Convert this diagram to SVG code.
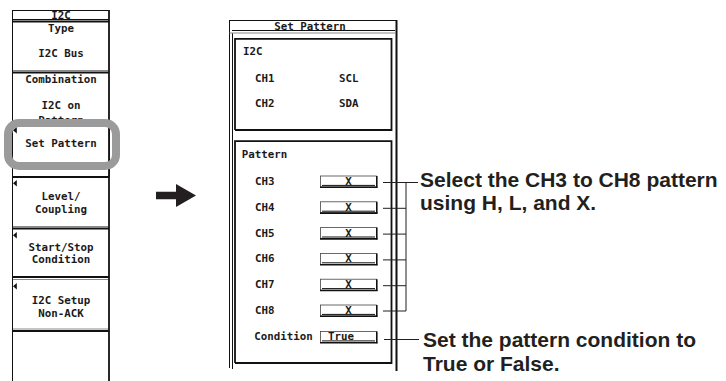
<svg xmlns="http://www.w3.org/2000/svg" width="726" height="381" viewBox="0 0 726 381">
  <style>
    .mono { font-family: "DejaVu Sans Mono", "Liberation Mono", monospace; font-size: 10.8px; font-weight: bold; fill: #1a1a1a; }
    .mid { text-anchor: middle; }
    .lbl { font-family: "Liberation Sans", Arial, sans-serif; font-weight: bold; font-size: 21px; fill: #231f20; }
    .edge { stroke: #111; fill: none; }
    .thin { stroke-width: 1; }
    .thick { stroke-width: 1.8; }
    .grey { stroke: #8a8a8a; stroke-width: 1; fill: none; }
    .conn { stroke: #231f20; stroke-width: 1; fill: none; }
    .tri { fill: #111; }
    .field { fill: #fff; stroke: #444; stroke-width: 0.8; }
  </style>
  <defs>
    <!-- small left-pointing marker shown at the top-left of a soft key -->
    <polygon id="keyMark" class="tri" points="16.8,0 13,3.2 16.8,6.4"/>
    <!-- one value field of the pattern dialog -->
    <g id="fieldBox">
      <rect class="field" x="320.5" y="0" width="56" height="11"/>
      <line class="edge" x1="376.8" y1="0" x2="376.8" y2="11.8" stroke-width="1.6"/>
      <line class="edge" x1="320" y1="11.3" x2="377.5" y2="11.3" stroke-width="1.6"/>
      <line class="edge thin" x1="322" y1="9.4" x2="375" y2="9.4"/>
    </g>
  </defs>

  <rect width="726" height="381" fill="#fff"/>

  <!-- soft-key menu -->
  <g id="menu">
    <rect x="12.5" y="10.5" width="96.5" height="372" fill="#fff" stroke="none"/>
    <line class="edge thin" x1="12.5" y1="10" x2="12.5" y2="381"/>
    <line class="edge thick" x1="109" y1="10" x2="109" y2="381"/>
    <line class="edge thin" x1="12.5" y1="10.5" x2="109" y2="10.5"/>
  </g>
  <g id="menu-title">
    <line class="edge thin" x1="13" y1="19.5" x2="109" y2="19.5"/>
    <line class="edge thick" x1="12.5" y1="21.5" x2="109" y2="21.5"/>
    <text class="mono mid" x="61" y="19">I2C</text>
  </g>
  <g id="key-type">
    <text class="mono mid" x="61" y="32">Type</text>
    <text class="mono mid" x="61" y="57">I2C Bus</text>
    <line class="grey" x1="13" y1="70.5" x2="108" y2="70.5"/>
    <line class="edge thick" x1="12.5" y1="72.5" x2="109" y2="72.5"/>
  </g>
  <g id="key-combination">
    <text class="mono mid" x="61" y="83">Combination</text>
    <text class="mono mid" x="61" y="109">I2C on</text>
    <text class="mono mid" x="61" y="123.5">Pattern</text>
  </g>
  <g id="key-set-pattern">
    <rect x="12.5" y="119.5" width="96.5" height="56" fill="#fff"/>
    <line class="edge thin" x1="12.5" y1="119" x2="12.5" y2="177"/>
    <line class="edge thick" x1="109" y1="119" x2="109" y2="177"/>
    <use href="#keyMark" y="127"/>
    <text class="mono mid" x="61" y="147">Set Pattern</text>
    <!-- selection highlight -->
    <rect x="8" y="123" width="108" height="43" rx="11" fill="none" stroke="#9b9b9b" stroke-width="8"/>
  </g>
  <g id="key-level">
    <line class="edge thick" x1="12.5" y1="177" x2="109" y2="177"/>
    <use href="#keyMark" y="180"/>
    <text class="mono mid" x="61" y="200">Level/</text>
    <text class="mono mid" x="61" y="212.5">Coupling</text>
    <line class="grey" x1="13" y1="226.5" x2="108" y2="226.5"/>
    <line class="edge thick" x1="12.5" y1="228.5" x2="109" y2="228.5"/>
  </g>
  <g id="key-start-stop">
    <use href="#keyMark" y="232"/>
    <text class="mono mid" x="61" y="250.5">Start/Stop</text>
    <text class="mono mid" x="61" y="263">Condition</text>
    <line class="edge thick" x1="12.5" y1="277" x2="109" y2="277"/>
    <line class="grey" x1="13" y1="279.5" x2="108" y2="279.5"/>
  </g>
  <g id="key-setup">
    <use href="#keyMark" y="283"/>
    <text class="mono mid" x="61" y="304">I2C Setup</text>
    <text class="mono mid" x="61" y="316.5">Non-ACK</text>
    <line class="grey" x1="13" y1="329" x2="108" y2="329"/>
    <line class="edge thick" x1="12.5" y1="331" x2="109" y2="331"/>
  </g>
  <g id="key-blank"/>

  <!-- arrow between the menu and the dialog -->
  <g id="arrow">
    <polygon fill="#231f20" points="156,191.7 176,191.7 176,184 196,195.5 176,207 176,199.3 156,199.3"/>
  </g>

  <!-- Set Pattern dialog -->
  <g id="dialog">
    <rect x="229.5" y="20.5" width="167" height="350" fill="#fff" stroke="none"/>
    <line class="edge thin" x1="229.5" y1="20.5" x2="396.5" y2="20.5"/>
    <line class="edge thin" x1="229.5" y1="20" x2="229.5" y2="368"/>
    <line class="edge thin" x1="232.5" y1="33" x2="232.5" y2="369"/>
    <line class="edge" stroke-width="2" x1="396.5" y1="20" x2="396.5" y2="371"/>
    <line class="edge thin" x1="232" y1="30.5" x2="395" y2="30.5"/>
    <line class="grey" x1="229.5" y1="33" x2="396" y2="33"/>
    <text class="mono mid" x="310" y="30">Set Pattern</text>
  </g>
  <g id="box-i2c">
    <path class="edge" stroke-width="1.8" d="M235,130 V38.8 H391.5 V130 H235"/>
    <text class="mono" x="243" y="55">I2C</text>
    <text class="mono" x="255" y="81.5">CH1</text>
    <text class="mono" x="339" y="81.5">SCL</text>
    <text class="mono" x="255" y="106.5">CH2</text>
    <text class="mono" x="339" y="106.5">SDA</text>
  </g>
  <g id="box-pattern">
    <path class="edge" stroke-width="1.8" d="M235,363 V141.2 H391.5 V363 H235"/>
    <text class="mono" x="241.7" y="157.7">Pattern</text>
  </g>
  <g id="row-ch3">
    <text class="mono" x="255" y="185">CH3</text>
    <use href="#fieldBox" y="176"/>
    <text class="mono mid" x="348.5" y="185">X</text>
  </g>
  <g id="row-ch4">
    <text class="mono" x="255" y="210.8">CH4</text>
    <use href="#fieldBox" y="201.8"/>
    <text class="mono mid" x="348.5" y="210.8">X</text>
  </g>
  <g id="row-ch5">
    <text class="mono" x="255" y="236.6">CH5</text>
    <use href="#fieldBox" y="227.6"/>
    <text class="mono mid" x="348.5" y="236.6">X</text>
  </g>
  <g id="row-ch6">
    <text class="mono" x="255" y="262.4">CH6</text>
    <use href="#fieldBox" y="253.4"/>
    <text class="mono mid" x="348.5" y="262.4">X</text>
  </g>
  <g id="row-ch7">
    <text class="mono" x="255" y="288.2">CH7</text>
    <use href="#fieldBox" y="279.2"/>
    <text class="mono mid" x="348.5" y="288.2">X</text>
  </g>
  <g id="row-ch8">
    <text class="mono" x="255" y="314">CH8</text>
    <use href="#fieldBox" y="305"/>
    <text class="mono mid" x="348.5" y="314">X</text>
  </g>
  <g id="row-condition">
    <text class="mono" x="254.3" y="340">Condition</text>
    <use href="#fieldBox" y="331.5"/>
    <text class="mono mid" x="341" y="340" font-family="Liberation Serif, serif" font-size="12">True</text>
  </g>

  <!-- callout leaders -->
  <g id="connectors">
    <line class="conn" x1="383" y1="182.5" x2="418" y2="182.5"/>
    <line class="conn" x1="383" y1="208.3" x2="406" y2="208.3"/>
    <line class="conn" x1="383" y1="234.1" x2="406" y2="234.1"/>
    <line class="conn" x1="383" y1="259.9" x2="406" y2="259.9"/>
    <line class="conn" x1="383" y1="285.7" x2="406" y2="285.7"/>
    <line class="conn" x1="383" y1="311" x2="406" y2="311"/>
    <line class="conn" x1="406" y1="182.5" x2="406" y2="311"/>
    <line class="conn" x1="384" y1="339.5" x2="419" y2="339.5"/>
  </g>

  <g id="note-pattern">
    <text class="lbl" x="420" y="187">Select the CH3 to CH8 pattern</text>
    <text class="lbl" x="420" y="209.5">using H, L, and X.</text>
  </g>
  <g id="note-condition">
    <text class="lbl" x="423" y="347">Set the pattern condition to</text>
    <text class="lbl" x="423" y="370.5">True or False.</text>
  </g>
</svg>
